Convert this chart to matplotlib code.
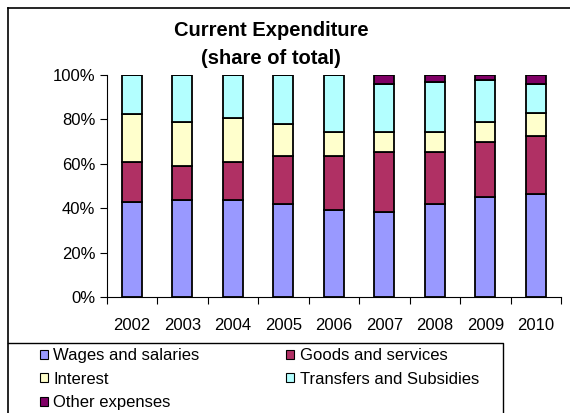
import matplotlib
matplotlib.use("Agg")
import matplotlib.pyplot as plt
from matplotlib.patches import Patch
from matplotlib.lines import Line2D
import numpy as np

plt.rcParams['font.family'] = ['Liberation Sans', 'DejaVu Sans']

years = ["2002", "2003", "2004", "2005", "2006", "2007", "2008", "2009", "2010"]
wages = [42.9, 43.7, 43.7, 41.9, 39.2, 38.4, 41.9, 44.9, 46.4]
goods = [18.1, 15.3, 17.1, 21.6, 24.3, 26.8, 23.3, 24.9, 26.1]
interest = [21.4, 20.0, 19.8, 14.6, 11.0, 9.3, 9.3, 9.2, 10.2]
transfers = [17.6, 21.0, 19.4, 21.9, 25.5, 21.4, 22.3, 18.7, 13.2]
other = [0.0, 0.0, 0.0, 0.0, 0.0, 4.1, 3.2, 2.3, 4.1]

series = [
    ("Wages and salaries", wages, "#9999FF"),
    ("Goods and services", goods, "#B03064"),
    ("Interest", interest, "#FFFFCC"),
    ("Transfers and Subsidies", transfers, "#B3FFFF"),
    ("Other expenses", other, "#800066"),
]

W, H = 570, 413
fig = plt.figure(figsize=(W / 100, H / 100), dpi=100)

# outer frame of the chart area (extends past right and bottom edges)
fig.add_artist(Line2D([8 / W, 1.0], [1 - 8 / H] * 2, color="black", lw=1.2, transform=fig.transFigure))
fig.add_artist(Line2D([8 / W] * 2, [0, 1 - 8 / H], color="black", lw=1.2, transform=fig.transFigure))

ax = fig.add_axes([106.5 / W, 1 - 297 / H, (561 - 106.5) / W, (297 - 75) / H])

x = np.arange(len(years))
bottom = np.zeros(len(years))
for name, vals, color in series:
    v = np.array(vals, dtype=float)
    ax.bar(x, v, width=0.4, bottom=bottom, color=color, edgecolor="black", linewidth=1.3, label=name)
    bottom += v

ax.set_xlim(-0.5, len(years) - 0.5)
ax.set_ylim(0, 100)
ax.set_yticks(np.arange(0, 101, 20))
ax.set_yticklabels([f"{t}%" for t in range(0, 101, 20)], fontsize=12)
ax.set_xticks(np.arange(-0.5, len(years), 1.0))
ax.set_xticklabels([])
ax.set_xticks(x, minor=True)
ax.set_xticklabels(years, minor=True, fontsize=12)
ax.tick_params(axis="x", which="major", length=5, direction="out", width=0.8)
ax.tick_params(axis="x", which="minor", length=0, pad=15)
ax.tick_params(axis="y", length=5, direction="out", width=0.8, pad=3)
for s in ("top", "right"):
    ax.spines[s].set_visible(False)
for s in ("left", "bottom"):
    ax.spines[s].set_linewidth(0.8)

fig.text(271 / W, 1 - 30 / H, "Current Expenditure", ha="center", va="center",
         fontsize=14.5, fontweight="bold")
fig.text(271 / W, 1 - 58 / H, "(share of total)", ha="center", va="center",
         fontsize=14.5, fontweight="bold")

# legend box
fig.add_artist(Line2D([8 / W, 503 / W, 503 / W], [1 - 343 / H, 1 - 343 / H, 0],
                      color="black", lw=1.0, transform=fig.transFigure))

order = [0, 2, 4, 1, 3]
handles = [Patch(facecolor=series[i][2], edgecolor="black", linewidth=0.8) for i in order]
labels = [series[i][0] for i in order]
fig.legend(handles, labels, ncol=2, loc="upper left",
           bbox_to_anchor=(40 / W, 1 - 348 / H), frameon=False, fontsize=12,
           handlelength=0.45, handleheight=0.45, handletextpad=0.35,
           columnspacing=5.2, labelspacing=0.51, borderpad=0, borderaxespad=0)

fig.savefig("out.png", dpi=100)
